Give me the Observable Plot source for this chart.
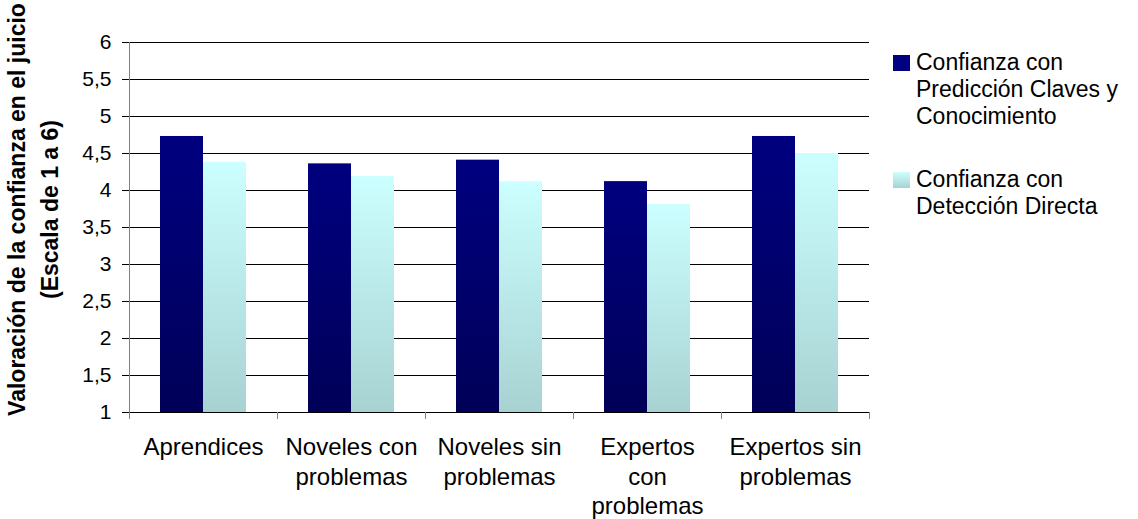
<!DOCTYPE html>
<html>
<head>
<meta charset="utf-8">
<script src="https://cdn.jsdelivr.net/npm/d3@7"></script>
<script src="https://cdn.jsdelivr.net/npm/@observablehq/plot@0.6"></script>
<style>
  html, body { margin: 0; padding: 0; background: #fff; }
  #chart { position: relative; width: 1138px; height: 519px; font-family: "Liberation Sans", Arial, sans-serif; }
  #chart svg.plot { position: absolute; left: 0; top: 0; }
  .legend { position: absolute; left: 893px; font-size: 23px; line-height: 27px; color: #000; }
  .legend .item { position: absolute; left: 0; white-space: nowrap; }
  .legend .swatch { position: absolute; left: 0; width: 17px; height: 16px; }
  .legend .label { position: absolute; left: 23px; }
</style>
</head>
<body>
<div id="chart">
  <svg width="0" height="0" style="position:absolute">
    <defs>
      <linearGradient id="gradDark" x1="0" y1="0" x2="0" y2="1">
        <stop offset="0" stop-color="#000080"/>
        <stop offset="1" stop-color="#000058"/>
      </linearGradient>
      <linearGradient id="gradLight" x1="0" y1="0" x2="0" y2="1">
        <stop offset="0" stop-color="#ccffff"/>
        <stop offset="1" stop-color="#a8d2d2"/>
      </linearGradient>
    </defs>
  </svg>
</div>
<script>
// Categories (groups along the horizontal axis)
const categories = [
  "Aprendices",
  "Noveles con problemas",
  "Noveles sin problemas",
  "Expertos con problemas",
  "Expertos sin problemas"
];
// Wrapped category labels as shown under the axis
const categoryLabels = [
  "Aprendices",
  "Noveles con\nproblemas",
  "Noveles sin\nproblemas",
  "Expertos\ncon\nproblemas",
  "Expertos sin\nproblemas"
];
// Series names
const series = [
  "Confianza con Predicción Claves y Conocimiento",
  "Confianza con Detección Directa"
];
// Mean confidence ratings (scale 1 to 6)
const prediccionClaves = [4.73, 4.36, 4.41, 4.12, 4.73];
const deteccionDirecta = [4.38, 4.19, 4.12, 3.81, 4.50];
// Y axis ticks
const yTicks = [1, 1.5, 2, 2.5, 3, 3.5, 4, 4.5, 5, 5.5, 6];
const yTitle = "Valoración de la confianza en el juicio\n(Escala de 1 a 6)";

const rows = categories.flatMap((c, i) => [
  {category: c, series: series[0], value: prediccionClaves[i]},
  {category: c, series: series[1], value: deteccionDirecta[i]}
]);

const labelOf = new Map(categories.map((c, i) => [c, categoryLabels[i]]));
const fills = {[series[0]]: "url(#gradDark)", [series[1]]: "url(#gradLight)"};

const width = 1138, height = 519;
const marginLeft = 129, marginRight = 269, marginTop = 42, marginBottom = 107;
const step = (width - marginLeft - marginRight) / categories.length;

const chart = Plot.plot({
  width, height, marginLeft, marginRight, marginTop, marginBottom,
  style: {fontFamily: "'Liberation Sans', Arial, sans-serif", color: "#000", background: "#fff"},
  fx: {domain: categories, padding: 0},
  x: {domain: series, paddingInner: 0, paddingOuter: 0.72, axis: null},
  y: {domain: [1, 6]},
  marks: [
    Plot.gridY(yTicks, {stroke: "#000", strokeOpacity: 1, strokeWidth: 1}),
    Plot.barY(rows, {
      fx: "category", x: "series", y1: 1, y2: "value",
      fill: d => fills[d.series]
    }),
    Plot.ruleY([1], {stroke: "#000", strokeWidth: 1}),
    Plot.frame({anchor: "left", facetAnchor: "left", stroke: "#808080"}),
    Plot.axisY({
      ticks: yTicks, tickSize: 7, tickPadding: 11, fontSize: 21,
      tickFormat: d => String(d).replace(".", ","), label: null, stroke: "#000"
    }),
    // category boundary ticks
    Plot.axisFx({anchor: "bottom", tickSize: 7, tickFormat: () => "", dx: -step / 2, stroke: "#808080", label: null}),
    Plot.axisFx({anchor: "bottom", ticks: [categories[categories.length - 1]], tickSize: 7, tickFormat: () => "", dx: step / 2, stroke: "#808080", label: null}),
    // category labels
    Plot.axisFx({
      anchor: "bottom", tickSize: 0, tickPadding: 22, fontSize: 24, lineHeight: 1.22,
      tickFormat: d => labelOf.get(d), label: null
    }),
    Plot.text([yTitle], {
      facetAnchor: "left", frameAnchor: "left", text: d => d,
      rotate: -90, fontSize: 23, fontWeight: "bold", lineHeight: 1.45,
      textAnchor: "middle", lineAnchor: "middle", dx: -98.5, dy: -18, fill: "#000"
    })
  ]
});
chart.classList.add("plot");

const root = document.getElementById("chart");
root.appendChild(chart);

// Legend
const legend = document.createElement("div");
legend.className = "legend";
const legendItems = [
  {lines: ["Confianza con", "Predicción Claves y", "Conocimiento"], swatch: "#000080", top: 48.5},
  {lines: ["Confianza con", "Detección Directa"], swatch: "linear-gradient(#ccffff, #a8d2d2)", top: 165.5}
];
legendItems.forEach(item => {
  const el = document.createElement("div");
  el.className = "item";
  el.style.top = item.top + "px";
  const sw = document.createElement("div");
  sw.className = "swatch";
  sw.style.background = item.swatch;
  sw.style.top = "6px";
  const lab = document.createElement("div");
  lab.className = "label";
  lab.innerHTML = item.lines.join("<br>");
  el.appendChild(sw);
  el.appendChild(lab);
  legend.appendChild(el);
});
root.appendChild(legend);
</script>
</body>
</html>
